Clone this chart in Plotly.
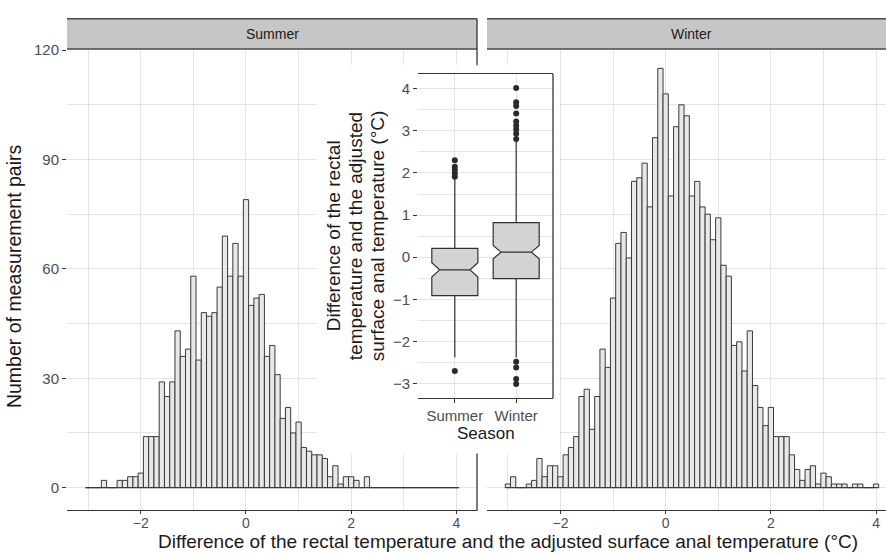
import plotly.graph_objects as go

# ---------------- data ----------------
bin_centers = [-3.0, -2.9, -2.8, -2.7, -2.6, -2.5, -2.4, -2.3, -2.2, -2.1,
               -2.0, -1.9, -1.8, -1.7, -1.6, -1.5, -1.4, -1.3, -1.2, -1.1,
               -1.0, -0.9, -0.8, -0.7, -0.6, -0.5, -0.4, -0.3, -0.2, -0.1,
               0.0, 0.1, 0.2, 0.3, 0.4, 0.5, 0.6, 0.7, 0.8, 0.9,
               1.0, 1.1, 1.2, 1.3, 1.4, 1.5, 1.6, 1.7, 1.8, 1.9,
               2.0, 2.1, 2.2, 2.3, 2.4, 2.5, 2.6, 2.7, 2.8, 2.9,
               3.0, 3.1, 3.2, 3.3, 3.4, 3.5, 3.6, 3.7, 3.8, 3.9, 4.0]
binwidth = 0.1

summer_counts = [0, 0, 0, 2, 0, 0, 2, 2, 3, 3,
                 4, 14, 14, 14, 29, 25, 29, 43, 36, 38,
                 58, 35, 48, 47, 48, 55, 69, 58, 67, 58,
                 79, 50, 52, 53, 36, 39, 31, 19, 22, 15,
                 18, 11, 10, 9, 9, 8, 3, 6, 1, 3,
                 3, 2, 0, 3, 0, 0, 0, 0, 0, 0,
                 0, 0, 0, 0, 0, 0, 0, 0, 0, 0, 0]

winter_counts = [1, 3, 0, 0, 1, 2, 8, 3, 6, 6,
                 3, 9, 11, 14, 25, 27, 16, 25, 38, 33,
                 52, 67, 70, 63, 84, 85, 89, 77, 96, 115,
                 108, 80, 99, 105, 102, 80, 84, 77, 75, 68,
                 74, 61, 58, 39, 40, 32, 43, 28, 22, 17,
                 22, 14, 14, 14, 9, 5, 2, 5, 6, 1,
                 4, 3, 1, 1, 1, 0, 1, 1, 0, 0, 1]

seasons = ["Summer", "Winter"]
box_q1 = [-0.91, -0.51]
box_median = [-0.30, 0.12]
box_q3 = [0.21, 0.82]
box_lower = [-2.38, -2.38]
box_upper = [1.85, 2.77]
box_notch = [0.17, 0.16]

summer_outliers = [2.30, 2.15, 2.07, 1.99, 1.91, -2.70]
winter_outliers = [4.02, 3.68, 3.59, 3.41, 3.22, 3.12, 3.03, 2.93, 2.81,
                   -2.48, -2.62, -2.89, -3.01]

main_x_title = "Difference of the rectal temperature and the adjusted surface anal temperature (°C)"
main_y_title = "Number of measurement pairs"
inset_y_title_lines = ["Difference of the rectal", "temperature and the adjusted",
                       "surface anal temperature (°C)"]
inset_x_title = "Season"

# ---------------- styling helpers ----------------
W, H = 886, 554
def px(x):
    return x / W
def py(y):
    return (H - y) / H

GRID = "#e4e4e4"
AXC = "#333333"
TICKC = "#4d4d4d"
BAR_FILL = "#e8e8e8"
BAR_LINE = "#3a3a3a"

fig = go.Figure()

# histograms
for vals, xa, ya in [(summer_counts, "x", "y"), (winter_counts, "x2", "y2")]:
    fig.add_trace(go.Bar(x=bin_centers, y=vals, width=binwidth,
                         marker=dict(color=BAR_FILL, line=dict(color=BAR_LINE, width=1)),
                         xaxis=xa, yaxis=ya, showlegend=False, hoverinfo="skip"))
    fig.add_trace(go.Scatter(x=[bin_centers[0] - binwidth / 2, bin_centers[-1] + binwidth / 2],
                             y=[0, 0], mode="lines", line=dict(color=BAR_LINE, width=1),
                             xaxis=xa, yaxis=ya, showlegend=False, hoverinfo="skip"))

# dummy subplot (white background behind the inset)
fig.add_trace(go.Scatter(x=[None], y=[None], xaxis="x3", yaxis="y3",
                         showlegend=False, hoverinfo="skip"))

# inset boxplot
fig.add_trace(go.Box(x=seasons, q1=box_q1, median=box_median, q3=box_q3,
                     lowerfence=box_lower, upperfence=box_upper,
                     notched=True, notchspan=box_notch, notchwidth=0.17,
                     width=0.75, whiskerwidth=0, boxpoints=False,
                     fillcolor="#d3d3d3", line=dict(color="#303030", width=1.2),
                     xaxis="x4", yaxis="y4", showlegend=False, hoverinfo="skip"))
fig.add_trace(go.Scatter(x=[seasons[0]] * len(summer_outliers) + [seasons[1]] * len(winter_outliers),
                         y=summer_outliers + winter_outliers, mode="markers",
                         marker=dict(color="#2a2a2a", size=6),
                         xaxis="x4", yaxis="y4", showlegend=False, hoverinfo="skip"))

FONT = "Liberation Sans, Arial, sans-serif"
tickfont = dict(family=FONT, size=15, color=TICKC)

main_x_common = dict(tickmode="linear", tick0=0, dtick=2, ticks="outside", ticklen=3,
                     tickcolor=AXC, tickwidth=1, showline=True, linecolor=AXC, linewidth=1.3,
                     showgrid=True, gridcolor=GRID, gridwidth=1, zeroline=False,
                     minor=dict(tickmode="linear", tick0=0, dtick=1, showgrid=True,
                                gridcolor=GRID, gridwidth=1, ticks=""),
                     tickfont=dict(family=FONT, size=14, color=TICKC),
                     ticklabelstandoff=-3)
main_y_common = dict(range=[-6.03, 120.2], tickmode="linear", tick0=0, dtick=30,
                     showgrid=True, gridcolor=GRID, gridwidth=1, zeroline=False,
                     minor=dict(tickmode="linear", tick0=0, dtick=15, showgrid=True,
                                gridcolor=GRID, gridwidth=1, ticks=""),
                     domain=[py(509), py(42)], showline=False)

fig.update_layout(
    width=W, height=H, margin=dict(l=0, r=0, t=0, b=0),
    paper_bgcolor="white", plot_bgcolor="white",
    font=dict(family=FONT, color="#1a1a1a"),
    showlegend=False,
    xaxis=dict(domain=[px(67), px(477)], range=[-3.403, 4.392], anchor="y", **main_x_common),
    yaxis=dict(anchor="x", ticks="outside", ticklen=4, tickcolor=AXC, tickfont=tickfont,
               **main_y_common),
    xaxis2=dict(domain=[px(487), 1.0], range=[-3.397, 4.189], anchor="y2", **main_x_common),
    yaxis2=dict(anchor="x2", showticklabels=False, ticks="", **main_y_common),
    xaxis3=dict(domain=[px(317), px(560)], range=[0, 1], anchor="y3", visible=False),
    yaxis3=dict(domain=[py(452), py(58)], range=[0, 1], anchor="x3", visible=False),
    xaxis4=dict(domain=[px(418), px(553)], anchor="y4", type="category",
                categoryorder="array", categoryarray=seasons, range=[-0.6, 1.6],
                showline=True, mirror=True, linecolor=AXC, linewidth=1.3,
                ticks="outside", ticklen=4, tickcolor=AXC,
                showgrid=True, gridcolor=GRID, gridwidth=1, tickfont=tickfont),
    yaxis4=dict(domain=[py(396), py(67)], anchor="x4", range=[-3.35, 4.35],
                tickmode="linear", tick0=0, dtick=1, ticks="outside", ticklen=4,
                tickcolor=AXC, showline=False, zeroline=False,
                showgrid=True, gridcolor=GRID, gridwidth=1,
                minor=dict(tickmode="linear", tick0=0, dtick=0.5, showgrid=True,
                           gridcolor=GRID, gridwidth=1, ticks=""),
                tickfont=tickfont),
)

shapes = []
# facet strips
for x0, x1 in [(67, 477), (487, 900)]:
    shapes.append(dict(type="rect", xref="paper", yref="paper", x0=px(x0), x1=px(x1),
                       y0=py(41.5), y1=py(11), fillcolor="#c6c6c6", line=dict(width=0),
                       layer="above"))
    for yy in (11, 41.5):
        shapes.append(dict(type="line", xref="paper", yref="paper", x0=px(x0), x1=px(x1),
                           y0=py(yy), y1=py(yy), line=dict(color="#4a4a4a", width=1.5),
                           layer="above"))
# left panel right border (hidden behind inset)
for ya, yb in [(11, 58), (452, 510)]:
    shapes.append(dict(type="line", xref="paper", yref="paper", x0=px(477), x1=px(477),
                       y0=py(ya), y1=py(yb), line=dict(color=AXC, width=1.3), layer="above"))
# inset right border
shapes.append(dict(type="line", xref="paper", yref="paper", x0=px(553), x1=px(553),
                   y0=py(67), y1=py(396), line=dict(color=AXC, width=1.3), layer="above"))
fig.update_layout(shapes=shapes)

def note(text, x, y, size, angle=0):
    return dict(text=text, x=px(x), y=py(y), xref="paper", yref="paper",
                textangle=angle, showarrow=False, xanchor="center", yanchor="middle",
                font=dict(family=FONT, size=size, color="#1a1a1a"))

ann = [note("Summer", 272, 26.5, 14), note("Winter", 691, 26.5, 14),
       note(main_y_title, 14, 272, 19.5, -90),
       note(main_x_title, 508, 541, 19)]
for line_text, xx in zip(inset_y_title_lines, [333, 355, 377]):
    ann.append(note(line_text, xx, 231.5, 19, -90))
ann.append(note(inset_x_title, 485.5, 432, 17))
fig.update_layout(annotations=ann)

fig.write_html("out.html")
